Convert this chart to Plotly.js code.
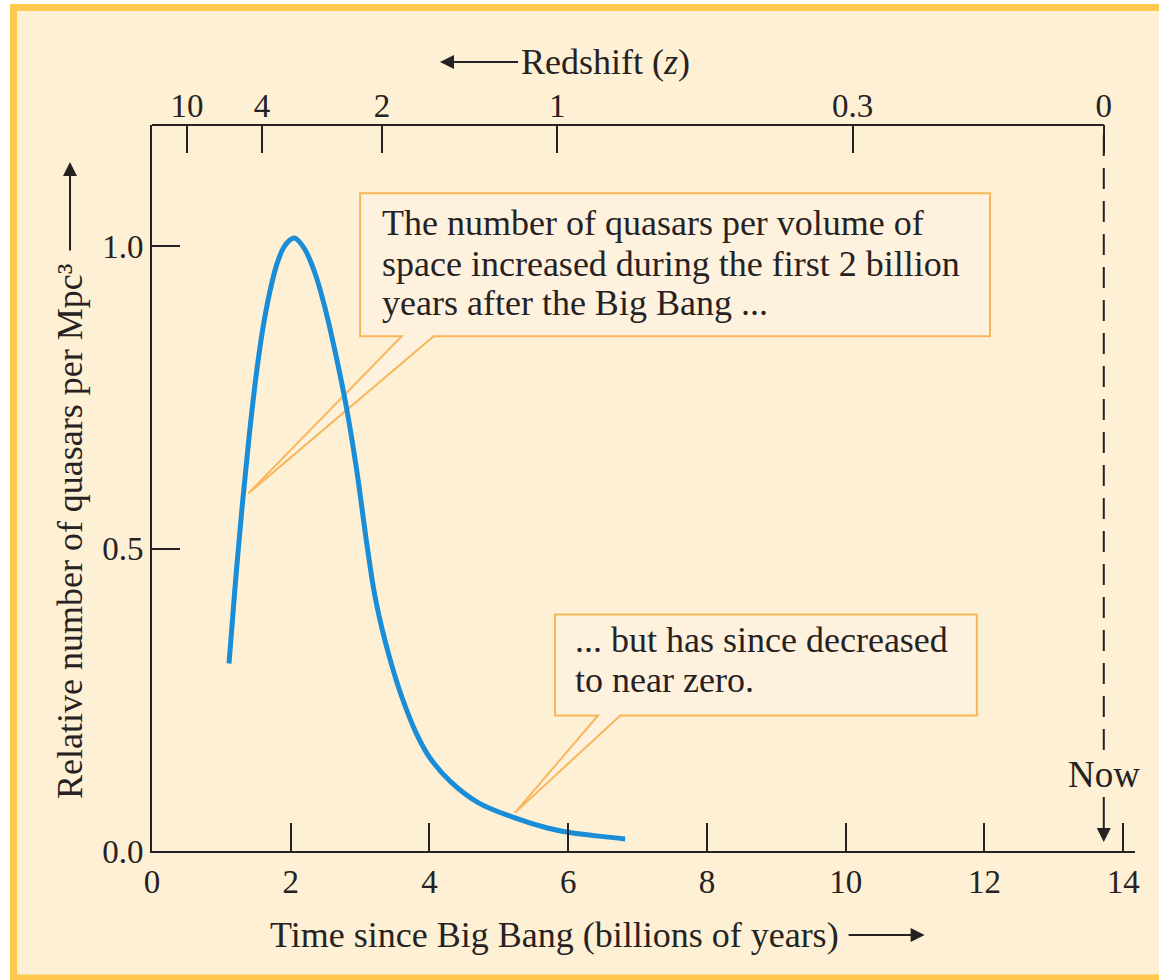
<!DOCTYPE html>
<html>
<head>
<meta charset="utf-8">
<script src="https://cdn.plot.ly/plotly-3.0.1.min.js"></script>
<style>
  html, body { margin: 0; padding: 0; background: #ffffff; }
  #chart { width: 1159px; height: 980px; }
</style>
</head>
<body>
<div id="chart"></div>
<script>
// ---- Data ----
// Time since Big Bang (billions of years)
const timeGyr = [1.11, 1.20, 1.30, 1.40, 1.50, 1.60, 1.70, 1.80, 1.90, 2.00, 2.06, 2.20, 2.35, 2.50, 2.65, 2.80, 2.95, 3.10, 3.20, 3.30, 3.40, 3.50, 3.60, 3.80, 4.00, 4.30, 4.70, 5.20, 5.70, 6.00, 6.40, 6.82];
// Relative number of quasars per Mpc^3
const quasarDensity = [0.31, 0.44, 0.57, 0.685, 0.785, 0.865, 0.925, 0.97, 0.998, 1.011, 1.013, 0.995, 0.955, 0.895, 0.82, 0.735, 0.63, 0.505, 0.43, 0.375, 0.33, 0.29, 0.255, 0.197, 0.155, 0.115, 0.08, 0.056, 0.038, 0.031, 0.025, 0.020];

// Bottom axis ticks
const timeTicks = [0, 2, 4, 6, 8, 10, 12, 14];
// Left axis ticks
const densityTicks = [0, 0.5, 1.0];
const densityTickLabels = ["0.0", "0.5", "1.0"];
// Top (redshift) axis: time positions and labels
const redshiftTimes = [0.505, 1.586, 3.316, 5.84, 10.1, 13.72];
const redshiftLabels = ["10", "4", "2", "1", "0.3", "0"];
// "Now" (age of the universe, billions of years)
const nowTime = 13.72;

// Callout texts
const callout1Lines = ["The number of quasars per volume of", "space increased during the first 2 billion", "years after the Big Bang ..."];
const callout2Lines = ["... but has since decreased", "to near zero."];

// ---- Styles ----
const FONT = "Liberation Serif, Times New Roman, serif";
const INK = "#262223";
const CREAM = "#FEF0D4";
const BOX_FILL = "#FEF2DE";
const BOX_LINE = "#F8B65A";
const FRAME = "#FFC94D";
const BLUE = "#1A8DD8";
const TICK_SIZE = 33;
const TEXT_SIZE = 36;

const traces = [
  {
    x: timeGyr, y: quasarDensity, type: "scatter", mode: "lines",
    line: { color: BLUE, width: 5, shape: "spline", smoothing: 1 },
    hoverinfo: "x+y", showlegend: false
  },
  {
    x: redshiftTimes, y: redshiftTimes.map(() => null), type: "scatter", mode: "lines",
    xaxis: "x2", yaxis: "y", hoverinfo: "skip", showlegend: false
  }
];

const lineAnn = (txt, x, y) => ({
  text: txt, x: x, y: y, xref: "x", yref: "y", xanchor: "left", yanchor: "middle",
  showarrow: false, font: { family: FONT, size: TEXT_SIZE, color: INK }
});

const c1x = 3.287, c1y = [1.038, 0.970, 0.906];
const c2x = 6.07, c2y = [0.348, 0.282];

const annotations = [];
callout1Lines.forEach((t, i) => annotations.push(lineAnn(t, c1x, c1y[i])));
callout2Lines.forEach((t, i) => annotations.push(lineAnn(t, c2x, c2y[i])));

const arrowStyle = { showarrow: true, arrowhead: 2, arrowsize: 1.4, arrowwidth: 2, arrowcolor: INK, standoff: 0 };

// x-axis title with arrow pointing right (tip at right)
annotations.push(Object.assign({
  text: "Time since Big Bang (billions of years)", xref: "paper", yref: "paper",
  x: 0.786, y: -0.1157, ax: -370, ay: 0, borderpad: 9,
  font: { family: FONT, size: TEXT_SIZE, color: INK }
}, arrowStyle));
// y-axis title with arrow pointing up
annotations.push(Object.assign({
  text: "Relative number of quasars per Mpc\u00B3", xref: "paper", yref: "paper",
  x: -0.0834, y: 0.949, ax: 0, ay: 369, textangle: -90, borderpad: 12,
  font: { family: FONT, size: TEXT_SIZE, color: INK }
}, arrowStyle));
// Redshift title with arrow pointing left
annotations.push(Object.assign({
  text: "Redshift (<i>z</i>)", xref: "paper", yref: "paper",
  x: 0.293, y: 1.0868, ax: 165, ay: 0, borderpad: 2,
  font: { family: FONT, size: TEXT_SIZE, color: INK }
}, arrowStyle));
// Now
annotations.push(Object.assign({
  text: "Now", xref: "x", yref: "y", x: nowTime, y: 0.015, ax: 0, ay: -67,
  font: { family: FONT, size: 37, color: INK }
}, arrowStyle));

const calloutPath = (l, r, t, b, bl, br, tx, ty) =>
  `M ${l},${t} L ${r},${t} L ${r},${b} L ${br},${b} L ${tx},${ty} L ${bl},${b} L ${l},${b} Z`;

const shapes = [
  // outer frame
  { type: "rect", xref: "paper", yref: "paper", x0: -0.1409, x1: 1.06, y0: -0.175, y1: 1.1618,
    line: { color: FRAME, width: 7 }, fillcolor: CREAM, layer: "below" },
  // top spine (ends at "Now")
  { type: "line", xref: "x", yref: "paper", x0: 0, x1: nowTime, y0: 1, y1: 1,
    line: { color: INK, width: 2 } },
  // dashed "Now" line
  { type: "line", xref: "x", yref: "y", x0: nowTime, x1: nowTime, y0: 0.167, y1: 1.2,
    line: { color: INK, width: 2, dash: "21px,12px" } },
  // callout 1
  { type: "path", xref: "x", yref: "y",
    path: calloutPath(3.0, 12.08, 1.087, 0.851, 3.6, 4.06, 1.388, 0.591),
    line: { color: BOX_LINE, width: 2 }, fillcolor: BOX_FILL, layer: "below" },
  // callout 2
  { type: "path", xref: "x", yref: "y",
    path: calloutPath(5.81, 11.89, 0.391, 0.224, 6.43, 6.75, 5.23, 0.063),
    line: { color: BOX_LINE, width: 2 }, fillcolor: BOX_FILL, layer: "below" }
];

const layout = {
  width: 1159, height: 980,
  margin: { l: 152, r: 24, t: 125, b: 129, pad: 0 },
  paper_bgcolor: "#ffffff",
  plot_bgcolor: "rgba(0,0,0,0)",
  font: { family: FONT, size: TICK_SIZE, color: INK },
  showlegend: false,
  xaxis: {
    range: [0, 14.17], tickvals: timeTicks, ticktext: timeTicks.map(String),
    ticks: "inside", ticklen: 28, tickwidth: 2, tickcolor: INK,
    showline: true, linecolor: INK, linewidth: 2, showgrid: false, zeroline: false,
    tickfont: { family: FONT, size: TICK_SIZE, color: INK }, fixedrange: true
  },
  xaxis2: {
    overlaying: "x", side: "top", anchor: "y", range: [0, 14.17],
    tickvals: redshiftTimes, ticktext: redshiftLabels,
    ticks: "inside", ticklen: 28, tickwidth: 2, tickcolor: INK,
    showline: false, showgrid: false, zeroline: false,
    tickfont: { family: FONT, size: TICK_SIZE, color: INK }, fixedrange: true
  },
  yaxis: {
    range: [0, 1.2], tickvals: densityTicks, ticktext: densityTickLabels,
    ticks: "inside", ticklen: 28, tickwidth: 2, tickcolor: INK,
    showline: true, linecolor: INK, linewidth: 2, showgrid: false, zeroline: false,
    tickfont: { family: FONT, size: TICK_SIZE, color: INK }, fixedrange: true
  },
  shapes: shapes,
  annotations: annotations
};

Plotly.newPlot("chart", traces, layout, { displayModeBar: false, staticPlot: true });
</script>
</body>
</html>
